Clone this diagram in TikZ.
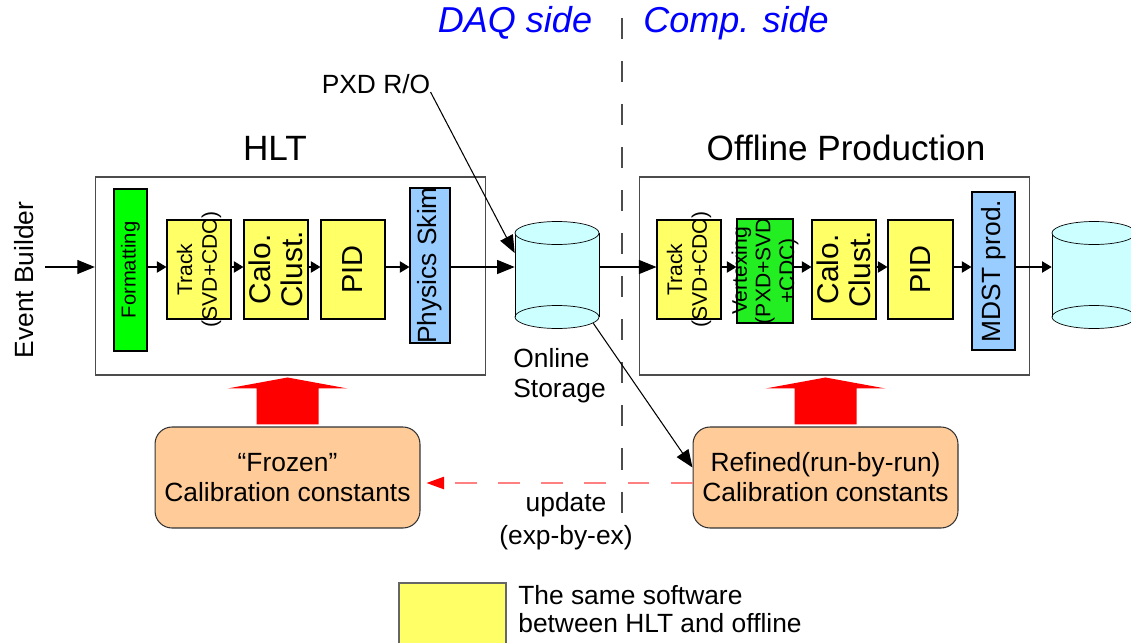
\documentclass[tikz,border=0pt]{standalone}
\usepackage{fontspec}
\setmainfont{Liberation Sans}
\usetikzlibrary{arrows.meta}

\definecolor{fmtgreen}{RGB}{0,255,0}
\definecolor{vtxgreen}{RGB}{34,238,34}
\definecolor{swyellow}{RGB}{255,255,102}
\definecolor{skimblue}{RGB}{153,204,255}
\definecolor{dbcyan}{RGB}{204,255,255}
\definecolor{calorange}{RGB}{255,204,153}
\definecolor{daqblue}{RGB}{0,0,255}
\definecolor{updred}{RGB}{255,128,128}

\begin{document}
\begin{tikzpicture}[x=0.02cm, y=-0.02cm, font=\fontsize{15}{17}\selectfont,
    flow/.style={-{Triangle[length=10pt,width=8pt]}, line width=0.6pt},
    sflow/.style={-{Triangle[length=5.5pt,width=6.5pt]}, line width=0.6pt},
    stage/.style={draw=black!70, line width=0.8pt, inner sep=0pt, minimum width=7.8cm, minimum height=3.96cm},
    stepbox/.style={draw=black, line width=0.6pt, inner sep=0pt},
    rot/.style={rotate=90, align=center, inner sep=0pt},
    calbox/.style={draw=black!80, fill=calorange, rounded corners=0.34cm, minimum width=5.3cm, minimum height=2.02cm, align=center, line width=0.6pt}]

        \useasboundingbox (0,0) rectangle (1131,642);

        % ---------------------------------------------------
        % 1. Frames, Titles and Separator
        % ---------------------------------------------------

        \node[stage] (hlt) at (290.5,276) {};
        \node[stage] (off) at (834.5,276) {};
        \node[font=\fontsize{20}{24}\selectfont] (hlt-t) at (275,148) {HLT};
        \node[font=\fontsize{20}{24}\selectfont] (off-t) at (846,148) {Offline Production};

        % DAQ / Comp. sides
        \node[daqblue, font=\fontsize{20.5}{24}\selectfont\itshape] (daq-t) at (515,23) {DAQ side};
        \node[daqblue, font=\fontsize{20.5}{24}\selectfont\itshape] (comp-t) at (736,23) {Comp. side};
        \draw[black!70, line width=0.8pt, dash pattern=on 12pt off 12.5pt] (622,18) -- (622,530);

        % Flow rail (all horizontal arrows sit on it)
        \coordinate (rail) at (0,267);

        % ---------------------------------------------------
        % 2. HLT chain
        % ---------------------------------------------------

        \node[rotate=90, inner sep=0pt] (eb) at (24,280) {Event Builder};
        \coordinate (eb-out) at (45,267);

        \node[stepbox, fill=fmtgreen, minimum width=0.66cm, minimum height=3.24cm] (fmt) at (130.5,270) {};
        \node[rot, font=\fontsize{11.5}{13}\selectfont] (fmt-t) at (fmt) {Formatting};

        \node[stepbox, fill=swyellow, minimum width=1.28cm, minimum height=1.98cm] (trk1) at (199,269.5) {};
        \node[rot, font=\fontsize{12}{14}\selectfont] (trk1-t) at (trk1) {Track\\(SVD+CDC)};

        \node[stepbox, fill=swyellow, minimum width=1.28cm, minimum height=1.98cm] (calo1) at (276,269.5) {};
        \node[rot, font=\fontsize{17}{18}\selectfont] (calo1-t) at (calo1) {Calo.\\Clust.};

        \node[stepbox, fill=swyellow, minimum width=1.28cm, minimum height=1.98cm] (pid1) at (353,269.5) {};
        \node[rot, font=\fontsize{16.5}{18}\selectfont] (pid1-t) at (pid1) {PID};

        \node[stepbox, fill=skimblue, minimum width=0.8cm, minimum height=3.1cm] (skim) at (430,265.5) {};
        \node[rot] (skim-t) at (skim) {Physics Skim};

        % Online storage (cylinder)
        \node[inner sep=0pt, minimum width=1.68cm, minimum height=2.12cm] (db1) at (557,275) {};
        \fill[dbcyan] (515,233) rectangle (599,317);
        \draw[fill=dbcyan] (557,317) ellipse [x radius=0.84cm, y radius=0.23cm];
        \draw (515,233) -- (515,317) (599,233) -- (599,317);
        \draw[fill=dbcyan] (557,233) ellipse [x radius=0.84cm, y radius=0.23cm];
        \node[anchor=west, align=left, inner sep=0pt] (ost) at (513,376) {Online\\Storage};

        \node[inner sep=0pt] (pxd) at (376,84) {PXD R/O};

        % ---------------------------------------------------
        % 3. Offline chain
        % ---------------------------------------------------

        \node[stepbox, fill=swyellow, minimum width=1.28cm, minimum height=1.98cm] (trk2) at (689,269.5) {};
        \node[rot, font=\fontsize{12}{14}\selectfont] (trk2-t) at (trk2) {Track\\(SVD+CDC)};

        \node[stepbox, fill=vtxgreen, minimum width=1.12cm, minimum height=2.08cm] (vtx) at (765,271) {};
        \node[rot, font=\fontsize{12}{13.5}\selectfont] (vtx-t) at (vtx) {Vertexing\\(PXD+SVD\\+CDC)};

        \node[stepbox, fill=swyellow, minimum width=1.28cm, minimum height=1.98cm] (calo2) at (844,269.5) {};
        \node[rot, font=\fontsize{17}{18}\selectfont] (calo2-t) at (calo2) {Calo.\\Clust.};

        \node[stepbox, fill=swyellow, minimum width=1.3cm, minimum height=1.98cm] (pid2) at (920.5,269.5) {};
        \node[rot, font=\fontsize{16.5}{18}\selectfont] (pid2-t) at (pid2) {PID};

        \node[stepbox, fill=skimblue, minimum width=0.86cm, minimum height=3.16cm] (mdst) at (993.5,271) {};
        \node[rot] (mdst-t) at (mdst) {MDST prod.};

        % Output storage (cut by the right edge)
        \node[inner sep=0pt, minimum width=1.68cm, minimum height=2.12cm] (db2) at (1094,275) {};
        \fill[dbcyan] (1052,233) rectangle (1136,317);
        \draw[fill=dbcyan] (1094,317) ellipse [x radius=0.84cm, y radius=0.23cm];
        \draw (1052,233) -- (1052,317) (1136,233) -- (1136,317);
        \draw[fill=dbcyan] (1094,233) ellipse [x radius=0.84cm, y radius=0.23cm];

        % ---------------------------------------------------
        % 4. Calibration constants
        % ---------------------------------------------------

        \node[calbox] (frozen) at (287.5,477.5) {“Frozen”\\Calibration constants};
        \node[calbox] (refined) at (825.5,477.5) {Refined(run-by-run)\\Calibration constants};
        \node[align=center, font=\fontsize{15}{18.5}\selectfont] (upd) at (566,521) {update\\(exp-by-ex)};

        % ---------------------------------------------------
        % 5. Arrows
        % ---------------------------------------------------

        \draw[flow] (eb-out) -- (hlt.west |- rail);
        \draw[sflow] (fmt.east |- rail) -- (trk1.west |- rail);
        \draw[sflow] (trk1.east |- rail) -- (calo1.west |- rail);
        \draw[sflow] (calo1.east |- rail) -- (pid1.west |- rail);
        \draw[sflow] (pid1.east |- rail) -- (skim.west |- rail);
        \draw[flow] (skim.east |- rail) -- (db1.west |- rail);
        \draw[flow] (db1.east |- rail) -- (trk2.west |- rail);
        \draw[sflow] (trk2.east |- rail) -- (vtx.west |- rail);
        \draw[sflow] (vtx.east |- rail) -- (calo2.west |- rail);
        \draw[sflow] (calo2.east |- rail) -- (pid2.west |- rail);
        \draw[sflow] (pid2.east |- rail) -- (mdst.west |- rail);
        \draw[sflow] (mdst.east |- rail) -- (db2.west |- rail);

        \draw[flow] ([yshift=-0.16cm]pxd.east) -- ([yshift=0.44cm]db1.west);
        \draw[flow] ([xshift=-0.12cm,yshift=0.1cm]db1.south east) -- ([yshift=0.2cm]refined.west);

        % Big red arrows into the stages
        \fill[red] ([xshift=-0.62cm,yshift=0.04cm]frozen.north) -- ++(0,-36) -- ++(-29,0) -- ++(60,-11) -- ++(60,11) -- ++(-29,0) -- ++(0,36) -- cycle;
        \fill[red] ([xshift=-0.62cm,yshift=0.04cm]refined.north) -- ++(0,-36) -- ++(-29,0) -- ++(60,-11) -- ++(60,11) -- ++(-29,0) -- ++(0,36) -- cycle;

        % Update (dashed)
        \draw[updred, line width=0.9pt, dash pattern=on 12.5pt off 12pt, -{Triangle[length=10pt,width=7pt,color=red]}] ([yshift=-0.11cm]refined.west) -- ([xshift=0.12cm,yshift=-0.11cm]frozen.east);

        % ---------------------------------------------------
        % 6. Legend
        % ---------------------------------------------------

        \node[stepbox, draw=black!60, fill=swyellow, minimum width=2.14cm, minimum height=1.6cm] (legbox) at (452.5,623) {};
        \node[anchor=west, align=left, inner sep=0pt, font=\fontsize{15}{16}\selectfont] (legtxt) at (518,609) {The same software\\between HLT and offline};

\end{tikzpicture}
\end{document}
